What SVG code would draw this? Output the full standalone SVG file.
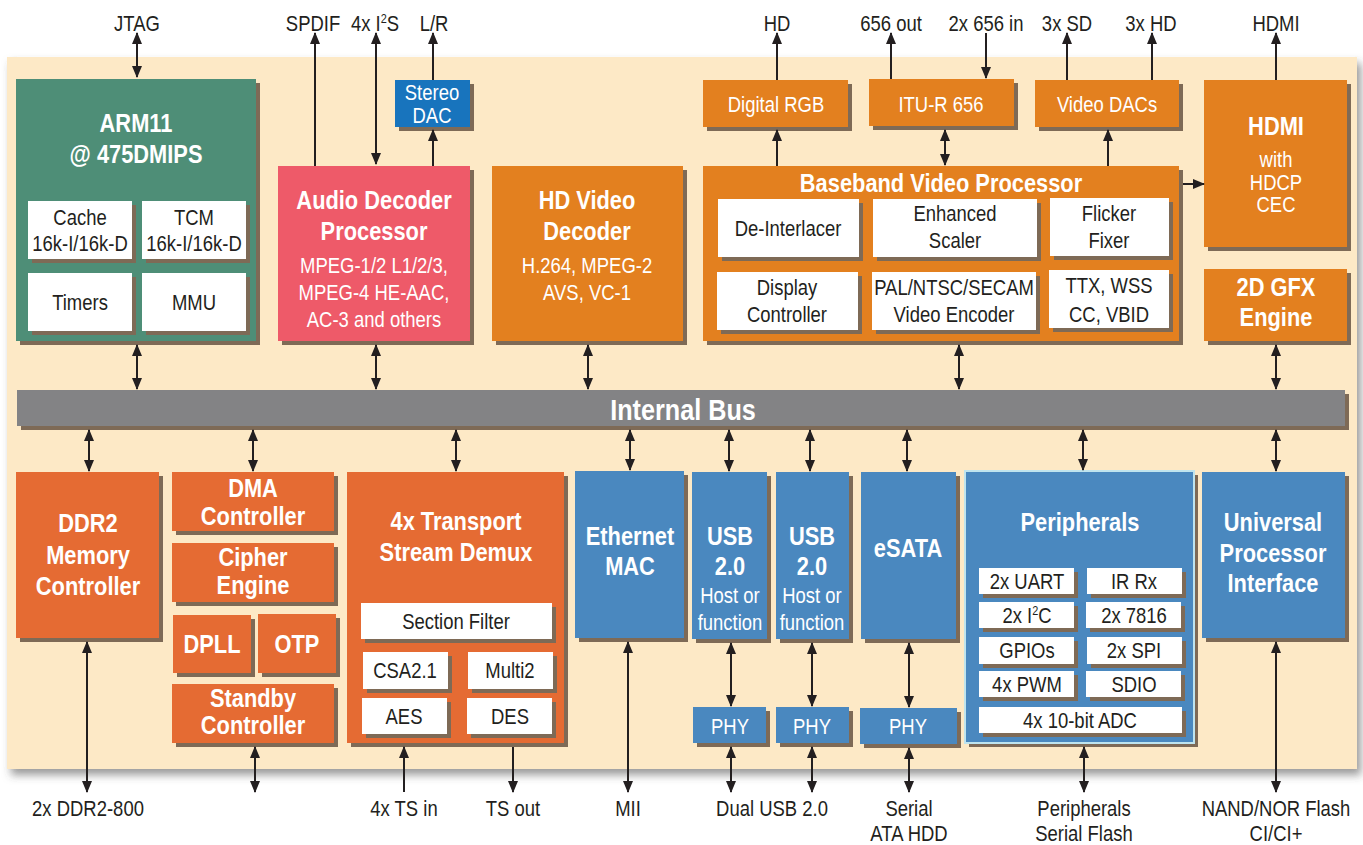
<svg xmlns="http://www.w3.org/2000/svg" width="1363" height="845" viewBox="0 0 1363 845">
<defs>
<style>
text{font-family:"Liberation Sans",Arial,sans-serif;text-anchor:middle}
.lbl{font-size:22px;fill:#231f20}
.tb{font-size:26px;font-weight:bold;fill:#fff}
.tw{font-size:22px;fill:#fff}
.tk{font-size:22px;fill:#231f20}
.sup{font-size:13px}
.sh{fill:#7e6a56}
.grn{fill:#4e8e77}
.pnk{fill:#ee5a69}
.org{fill:#e3801f}
.red{fill:#e56b33}
.blu{fill:#4a88bf}
.dac{fill:#1874bd}
.wht{fill:#fff}
.c{stroke:#231f20;stroke-width:2;fill:none}
.b{marker-start:url(#ah);marker-end:url(#ah)}
.e{marker-end:url(#ah)}
</style>
<marker id="ah" markerUnits="userSpaceOnUse" markerWidth="12" markerHeight="10" refX="11" refY="5" orient="auto-start-reverse" viewBox="0 0 12 10">
<path d="M0,0 L12,5 L0,10 z" fill="#231f20"/>
</marker>
<filter id="ps" x="-5%" y="-5%" width="110%" height="115%">
<feDropShadow dx="4" dy="6" stdDeviation="4" flood-color="#4a4a4a" flood-opacity="0.55"/>
</filter>
</defs>
<rect x="0" y="0" width="1363" height="845" fill="#fff"/>
<rect id="panel" x="7" y="57" width="1350" height="712" fill="#fde9c6" filter="url(#ps)"/>

<g id="arm11">
<rect class="sh" x="20" y="83" width="240" height="262"/>
<rect class="grn" x="16" y="79" width="240" height="262"/>
<text class="tb" transform="translate(136 132) scale(.84 1)">ARM11</text>
<text class="tb" transform="translate(136 163) scale(.84 1)">@ 475DMIPS</text>
<rect class="sh" x="32" y="205" width="104" height="58"/>
<rect class="wht" x="28" y="201" width="104" height="58"/>
<text class="tk" transform="translate(80 225) scale(.84 1)">Cache</text>
<text class="tk" transform="translate(80 251) scale(.84 1)">16k-I/16k-D</text>
<rect class="sh" x="146" y="205" width="104" height="58"/>
<rect class="wht" x="142" y="201" width="104" height="58"/>
<text class="tk" transform="translate(194 225) scale(.84 1)">TCM</text>
<text class="tk" transform="translate(194 251) scale(.84 1)">16k-I/16k-D</text>
<rect class="sh" x="32" y="277" width="104" height="58"/>
<rect class="wht" x="28" y="273" width="104" height="58"/>
<text class="tk" transform="translate(80 310) scale(.84 1)">Timers</text>
<rect class="sh" x="146" y="277" width="104" height="58"/>
<rect class="wht" x="142" y="273" width="104" height="58"/>
<text class="tk" transform="translate(194 310) scale(.84 1)">MMU</text>
</g>

<g id="audio">
<rect class="sh" x="282" y="170" width="192" height="175"/>
<rect class="pnk" x="278" y="166" width="192" height="175"/>
<text class="tb" transform="translate(374 209) scale(.84 1)">Audio Decoder</text>
<text class="tb" transform="translate(374 240) scale(.84 1)">Processor</text>
<text class="tw" transform="translate(374 273) scale(.84 1)">MPEG-1/2 L1/2/3,</text>
<text class="tw" transform="translate(374 300) scale(.84 1)">MPEG-4 HE-AAC,</text>
<text class="tw" transform="translate(374 327) scale(.84 1)">AC-3 and others</text>
</g>

<g id="stereodac">
<rect class="sh" x="399" y="84" width="75" height="47"/>
<rect class="dac" x="395" y="80" width="75" height="47"/>
<text class="tw" transform="translate(432 100) scale(.84 1)">Stereo</text>
<text class="tw" transform="translate(432 123) scale(.84 1)">DAC</text>
</g>

<g id="hdvideo">
<rect class="sh" x="496" y="170" width="191" height="175"/>
<rect class="org" x="492" y="166" width="191" height="175"/>
<text class="tb" transform="translate(587 209) scale(.84 1)">HD Video</text>
<text class="tb" transform="translate(587 240) scale(.84 1)">Decoder</text>
<text class="tw" transform="translate(587 273) scale(.84 1)">H.264, MPEG-2</text>
<text class="tw" transform="translate(587 300) scale(.84 1)">AVS, VC-1</text>
</g>

<g id="digitalrgb">
<rect class="sh" x="707" y="84" width="145" height="47"/>
<rect class="org" x="703" y="80" width="145" height="47"/>
<text class="tw" transform="translate(776 112) scale(.84 1)">Digital RGB</text>
</g>

<g id="itur656">
<rect class="sh" x="873" y="83" width="145" height="47"/>
<rect class="org" x="869" y="79" width="145" height="47"/>
<text class="tw" transform="translate(941 112) scale(.84 1)">ITU-R 656</text>
</g>

<g id="videodacs">
<rect class="sh" x="1039" y="84" width="144" height="47"/>
<rect class="org" x="1035" y="80" width="144" height="47"/>
<text class="tw" transform="translate(1107 112) scale(.84 1)">Video DACs</text>
</g>

<g id="hdmi">
<rect class="sh" x="1208" y="84" width="143" height="167"/>
<rect class="org" x="1204" y="80" width="143" height="167"/>
<text class="tb" transform="translate(1276 135) scale(.84 1)">HDMI</text>
<text class="tw" transform="translate(1276 167) scale(.84 1)">with</text>
<text class="tw" transform="translate(1276 190) scale(.84 1)">HDCP</text>
<text class="tw" transform="translate(1276 212) scale(.84 1)">CEC</text>
</g>

<g id="gfx2d">
<rect class="sh" x="1208" y="273" width="143" height="72"/>
<rect class="org" x="1204" y="269" width="143" height="72"/>
<text class="tb" transform="translate(1276 296) scale(.84 1)">2D GFX</text>
<text class="tb" transform="translate(1276 326) scale(.84 1)">Engine</text>
</g>

<g id="baseband">
<rect class="sh" x="707" y="170" width="476" height="175"/>
<rect class="org" x="703" y="166" width="476" height="175"/>
<text class="tb" transform="translate(941 192) scale(.84 1)">Baseband Video Processor</text>
<rect class="sh" x="722" y="203" width="141" height="58"/>
<rect class="wht" x="718" y="199" width="141" height="58"/>
<text class="tk" transform="translate(788 236) scale(.84 1)">De-Interlacer</text>
<rect class="sh" x="877" y="203" width="164" height="58"/>
<rect class="wht" x="873" y="199" width="164" height="58"/>
<text class="tk" transform="translate(955 221) scale(.84 1)">Enhanced</text>
<text class="tk" transform="translate(955 248) scale(.84 1)">Scaler</text>
<rect class="sh" x="1054" y="202" width="119" height="58"/>
<rect class="wht" x="1050" y="198" width="119" height="58"/>
<text class="tk" transform="translate(1109 221) scale(.84 1)">Flicker</text>
<text class="tk" transform="translate(1109 248) scale(.84 1)">Fixer</text>
<rect class="sh" x="721" y="276" width="141" height="58"/>
<rect class="wht" x="717" y="272" width="141" height="58"/>
<text class="tk" transform="translate(787 295) scale(.84 1)">Display</text>
<text class="tk" transform="translate(787 322) scale(.84 1)">Controller</text>
<rect class="sh" x="876" y="276" width="164" height="58"/>
<rect class="wht" x="872" y="272" width="164" height="58"/>
<text class="tk" transform="translate(954 295) scale(.84 1)">PAL/NTSC/SECAM</text>
<text class="tk" transform="translate(954 322) scale(.84 1)">Video Encoder</text>
<rect class="sh" x="1053" y="274" width="120" height="58"/>
<rect class="wht" x="1049" y="270" width="120" height="58"/>
<text class="tk" transform="translate(1109 293) scale(.84 1)">TTX, WSS</text>
<text class="tk" transform="translate(1109 322) scale(.84 1)">CC, VBID</text>
</g>

<g id="bus">
<rect class="sh" x="21" y="394" width="1328" height="36"/>
<rect x="17" y="390" width="1328" height="36" fill="#838385"/>
<text transform="translate(683 420) scale(.84 1)" style="font-size:30px;font-weight:bold;fill:#fff">Internal Bus</text>
</g>

<g id="ddr2">
<rect class="sh" x="20" y="476" width="143" height="166"/>
<rect class="red" x="16" y="472" width="143" height="166"/>
<text class="tb" transform="translate(88 532) scale(.84 1)">DDR2</text>
<text class="tb" transform="translate(88 564) scale(.84 1)">Memory</text>
<text class="tb" transform="translate(88 595) scale(.84 1)">Controller</text>
</g>

<g id="dma">
<rect class="sh" x="176" y="476" width="162" height="59"/>
<rect class="red" x="172" y="472" width="162" height="59"/>
<text class="tb" transform="translate(253 497) scale(.84 1)">DMA</text>
<text class="tb" transform="translate(253 525) scale(.84 1)">Controller</text>
</g>

<g id="cipher">
<rect class="sh" x="176" y="547" width="162" height="59"/>
<rect class="red" x="172" y="543" width="162" height="59"/>
<text class="tb" transform="translate(253 566) scale(.84 1)">Cipher</text>
<text class="tb" transform="translate(253 594) scale(.84 1)">Engine</text>
</g>

<g id="dpll">
<rect class="sh" x="177" y="619" width="78" height="58"/>
<rect class="red" x="173" y="615" width="78" height="58"/>
<text class="tb" transform="translate(212 653) scale(.84 1)">DPLL</text>
</g>

<g id="otp">
<rect class="sh" x="262" y="618" width="78" height="59"/>
<rect class="red" x="258" y="614" width="78" height="59"/>
<text class="tb" transform="translate(297 653) scale(.84 1)">OTP</text>
</g>

<g id="standby">
<rect class="sh" x="176" y="688" width="162" height="59"/>
<rect class="red" x="172" y="684" width="162" height="59"/>
<text class="tb" transform="translate(253 707) scale(.84 1)">Standby</text>
<text class="tb" transform="translate(253 734) scale(.84 1)">Controller</text>
</g>

<g id="transport">
<rect class="sh" x="351" y="476" width="217" height="271"/>
<rect class="red" x="347" y="472" width="217" height="271"/>
<text class="tb" transform="translate(456 530) scale(.84 1)">4x Transport</text>
<text class="tb" transform="translate(456 561) scale(.84 1)">Stream Demux</text>
<rect class="sh" x="365" y="607" width="191" height="36"/>
<rect class="wht" x="361" y="603" width="191" height="36"/>
<text class="tk" transform="translate(456 629) scale(.84 1)">Section Filter</text>
<rect class="sh" x="367" y="656" width="85" height="37"/>
<rect class="wht" x="363" y="652" width="85" height="37"/>
<text class="tk" transform="translate(405 678) scale(.84 1)">CSA2.1</text>
<rect class="sh" x="472" y="656" width="85" height="37"/>
<rect class="wht" x="468" y="652" width="85" height="37"/>
<text class="tk" transform="translate(510 678) scale(.84 1)">Multi2</text>
<rect class="sh" x="366" y="702" width="85" height="36"/>
<rect class="wht" x="362" y="698" width="85" height="36"/>
<text class="tk" transform="translate(404 724) scale(.84 1)">AES</text>
<rect class="sh" x="471" y="702" width="85" height="36"/>
<rect class="wht" x="467" y="698" width="85" height="36"/>
<text class="tk" transform="translate(510 724) scale(.84 1)">DES</text>
</g>

<g id="ethernet">
<rect class="sh" x="579" y="475" width="109" height="167"/>
<rect class="blu" x="575" y="471" width="109" height="167"/>
<text class="tb" transform="translate(630 545) scale(.84 1)">Ethernet</text>
<text class="tb" transform="translate(630 575) scale(.84 1)">MAC</text>
</g>

<g id="usb1">
<rect class="sh" x="696" y="476" width="75" height="167"/>
<rect class="blu" x="692" y="472" width="75" height="167"/>
<text class="tb" transform="translate(730 545) scale(.84 1)">USB</text>
<text class="tb" transform="translate(730 575) scale(.84 1)">2.0</text>
<text class="tw" transform="translate(730 603) scale(.84 1)">Host or</text>
<text class="tw" transform="translate(730 630) scale(.84 1)">function</text>
</g>

<g id="usb2">
<rect class="sh" x="780" y="476" width="73" height="167"/>
<rect class="blu" x="776" y="472" width="73" height="167"/>
<text class="tb" transform="translate(812 545) scale(.84 1)">USB</text>
<text class="tb" transform="translate(812 575) scale(.84 1)">2.0</text>
<text class="tw" transform="translate(812 603) scale(.84 1)">Host or</text>
<text class="tw" transform="translate(812 630) scale(.84 1)">function</text>
</g>

<g id="esata">
<rect class="sh" x="865" y="476" width="95" height="167"/>
<rect class="blu" x="861" y="472" width="95" height="167"/>
<text class="tb" transform="translate(908 557) scale(.84 1)">eSATA</text>
</g>

<g id="phy1">
<rect class="sh" x="697" y="711" width="73" height="36"/>
<rect class="blu" x="693" y="707" width="73" height="36"/>
<text class="tw" transform="translate(730 734) scale(.84 1)">PHY</text>
</g>
<g id="phy2">
<rect class="sh" x="780" y="711" width="73" height="36"/>
<rect class="blu" x="776" y="707" width="73" height="36"/>
<text class="tw" transform="translate(812 734) scale(.84 1)">PHY</text>
</g>
<g id="phy3">
<rect class="sh" x="864" y="712" width="97" height="36"/>
<rect class="blu" x="860" y="708" width="97" height="36"/>
<text class="tw" transform="translate(908 734) scale(.84 1)">PHY</text>
</g>

<g id="peripherals">
<rect class="sh" x="969" y="475" width="229" height="272"/>
<rect class="blu" x="965" y="471" width="229" height="272" stroke="#bfe4ee" stroke-width="2"/>
<text class="tb" transform="translate(1080 531) scale(.84 1)">Peripherals</text>
<rect class="sh" x="983" y="572" width="95" height="26"/>
<rect class="wht" x="979" y="568" width="95" height="26"/>
<text class="tk" transform="translate(1027 589) scale(.84 1)">2x UART</text>
<rect class="sh" x="1091" y="572" width="95" height="26"/>
<rect class="wht" x="1087" y="568" width="95" height="26"/>
<text class="tk" transform="translate(1134 589) scale(.84 1)">IR Rx</text>
<rect class="sh" x="983" y="606" width="95" height="26"/>
<rect class="wht" x="979" y="602" width="95" height="26"/>
<text class="tk" transform="translate(1027 623) scale(.84 1)">2x I<tspan class="sup" dy="-8">2</tspan><tspan dy="8">C</tspan></text>
<rect class="sh" x="1090" y="606" width="95" height="26"/>
<rect class="wht" x="1086" y="602" width="95" height="26"/>
<text class="tk" transform="translate(1134 623) scale(.84 1)">2x 7816</text>
<rect class="sh" x="983" y="641" width="95" height="27"/>
<rect class="wht" x="979" y="637" width="95" height="27"/>
<text class="tk" transform="translate(1027 658) scale(.84 1)">GPIOs</text>
<rect class="sh" x="1091" y="641" width="95" height="27"/>
<rect class="wht" x="1087" y="637" width="95" height="27"/>
<text class="tk" transform="translate(1134 658) scale(.84 1)">2x SPI</text>
<rect class="sh" x="983" y="675" width="95" height="26"/>
<rect class="wht" x="979" y="671" width="95" height="26"/>
<text class="tk" transform="translate(1027 692) scale(.84 1)">4x PWM</text>
<rect class="sh" x="1090" y="675" width="95" height="26"/>
<rect class="wht" x="1086" y="671" width="95" height="26"/>
<text class="tk" transform="translate(1134 692) scale(.84 1)">SDIO</text>
<rect class="sh" x="983" y="711" width="203" height="26"/>
<rect class="wht" x="979" y="707" width="203" height="26"/>
<text class="tk" transform="translate(1080 728) scale(.84 1)">4x 10-bit ADC</text>
</g>

<g id="upi">
<rect class="sh" x="1206" y="476" width="143" height="166"/>
<rect class="blu" x="1202" y="472" width="143" height="166"/>
<text class="tb" transform="translate(1273 531) scale(.84 1)">Universal</text>
<text class="tb" transform="translate(1273 562) scale(.84 1)">Processor</text>
<text class="tb" transform="translate(1273 592) scale(.84 1)">Interface</text>
</g>

<g id="connectors">
<line class="c b" x1="137" y1="33" x2="137" y2="77"/>
<line class="c e" x1="315" y1="166" x2="315" y2="33"/>
<line class="c b" x1="376" y1="33" x2="376" y2="164"/>
<line class="c e" x1="433" y1="80" x2="433" y2="33"/>
<line class="c e" x1="433" y1="166" x2="433" y2="130"/>
<line class="c e" x1="777" y1="80" x2="777" y2="33"/>
<line class="c e" x1="777" y1="166" x2="777" y2="130"/>
<line class="c e" x1="891" y1="79" x2="891" y2="33"/>
<line class="c e" x1="986" y1="33" x2="986" y2="78"/>
<line class="c b" x1="945" y1="130" x2="945" y2="165"/>
<line class="c e" x1="1067" y1="80" x2="1067" y2="33"/>
<line class="c e" x1="1152" y1="80" x2="1152" y2="33"/>
<line class="c e" x1="1108" y1="166" x2="1108" y2="130"/>
<line class="c e" x1="1276" y1="80" x2="1276" y2="33"/>
<line class="c e" x1="1183" y1="184" x2="1204" y2="184"/>
<line class="c b" x1="137" y1="345" x2="137" y2="389"/>
<line class="c b" x1="376" y1="345" x2="376" y2="389"/>
<line class="c b" x1="588" y1="345" x2="588" y2="389"/>
<line class="c b" x1="959" y1="345" x2="959" y2="389"/>
<line class="c b" x1="1276" y1="345" x2="1276" y2="389"/>
<line class="c b" x1="89" y1="430" x2="89" y2="471"/>
<line class="c b" x1="253" y1="430" x2="253" y2="471"/>
<line class="c b" x1="456" y1="430" x2="456" y2="471"/>
<line class="c b" x1="630" y1="430" x2="630" y2="470"/>
<line class="c b" x1="729" y1="430" x2="729" y2="471"/>
<line class="c b" x1="810" y1="430" x2="810" y2="471"/>
<line class="c b" x1="907" y1="430" x2="907" y2="471"/>
<line class="c b" x1="1083" y1="430" x2="1083" y2="470"/>
<line class="c b" x1="1276" y1="430" x2="1276" y2="471"/>
<line class="c b" x1="87" y1="642" x2="87" y2="792"/>
<line class="c b" x1="255" y1="747" x2="255" y2="792"/>
<line class="c e" x1="404" y1="792" x2="404" y2="747"/>
<line class="c e" x1="513" y1="747" x2="513" y2="792"/>
<line class="c b" x1="628" y1="642" x2="628" y2="792"/>
<line class="c b" x1="731" y1="643" x2="731" y2="706"/>
<line class="c b" x1="731" y1="747" x2="731" y2="792"/>
<line class="c b" x1="812" y1="643" x2="812" y2="706"/>
<line class="c b" x1="812" y1="747" x2="812" y2="792"/>
<line class="c b" x1="909" y1="643" x2="909" y2="707"/>
<line class="c b" x1="909" y1="748" x2="909" y2="792"/>
<line class="c b" x1="1084" y1="747" x2="1084" y2="792"/>
<line class="c b" x1="1276" y1="642" x2="1276" y2="792"/>
</g>

<g id="labels">
<text class="lbl" transform="translate(137 31) scale(.84 1)">JTAG</text>
<text class="lbl" transform="translate(313 31) scale(.84 1)">SPDIF</text>
<text class="lbl" transform="translate(375 31) scale(.84 1)">4x I<tspan class="sup" dy="-8">2</tspan><tspan dy="8">S</tspan></text>
<text class="lbl" transform="translate(434 31) scale(.84 1)">L/R</text>
<text class="lbl" transform="translate(777 31) scale(.84 1)">HD</text>
<text class="lbl" transform="translate(891 31) scale(.84 1)">656 out</text>
<text class="lbl" transform="translate(986 31) scale(.84 1)">2x 656 in</text>
<text class="lbl" transform="translate(1067 31) scale(.84 1)">3x SD</text>
<text class="lbl" transform="translate(1151 31) scale(.84 1)">3x HD</text>
<text class="lbl" transform="translate(1276 31) scale(.84 1)">HDMI</text>
<text class="lbl" transform="translate(88 816) scale(.84 1)">2x DDR2-800</text>
<text class="lbl" transform="translate(404 816) scale(.84 1)">4x TS in</text>
<text class="lbl" transform="translate(513 816) scale(.84 1)">TS out</text>
<text class="lbl" transform="translate(628 816) scale(.84 1)">MII</text>
<text class="lbl" transform="translate(772 816) scale(.84 1)">Dual USB 2.0</text>
<text class="lbl" transform="translate(909 816) scale(.84 1)">Serial</text>
<text class="lbl" transform="translate(909 841) scale(.84 1)">ATA HDD</text>
<text class="lbl" transform="translate(1084 816) scale(.84 1)">Peripherals</text>
<text class="lbl" transform="translate(1084 841) scale(.84 1)">Serial Flash</text>
<text class="lbl" transform="translate(1276 816) scale(.84 1)">NAND/NOR Flash</text>
<text class="lbl" transform="translate(1276 841) scale(.84 1)">CI/CI+</text>
</g>
</svg>
